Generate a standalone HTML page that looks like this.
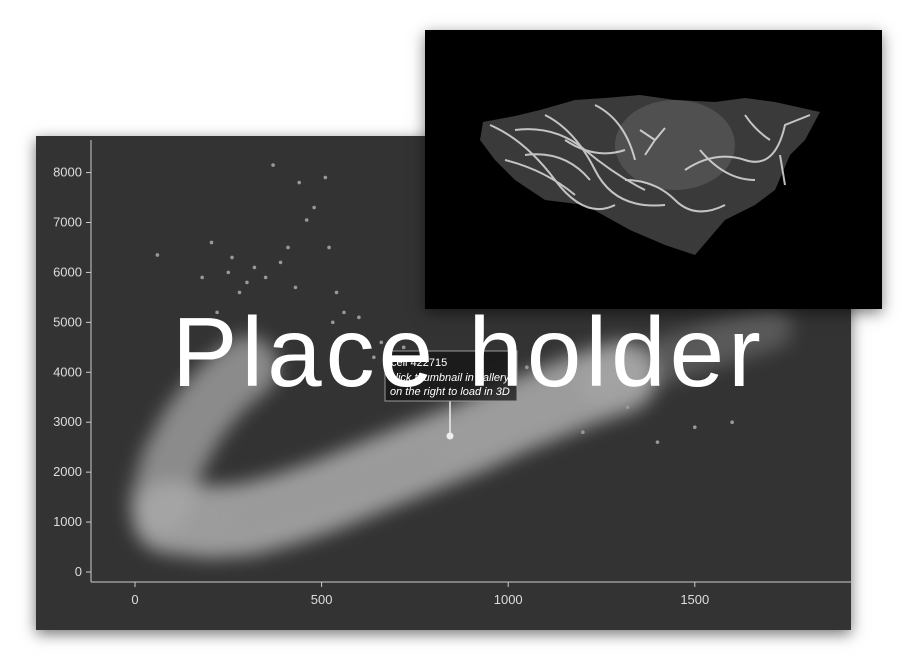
<!DOCTYPE html>
<html><head><meta charset="utf-8">
<style>
html,body{margin:0;padding:0;background:#fff;width:924px;height:671px;overflow:hidden;font-family:"Liberation Sans",sans-serif}
#panel{position:absolute;left:36px;top:136px;width:815px;height:494px;background:#333;box-shadow:0 4px 14px rgba(0,0,0,0.55)}
#inset{position:absolute;left:425px;top:30px;width:457px;height:279px;background:#000;box-shadow:0 4px 14px rgba(0,0,0,0.5)}
#ph{position:absolute;left:172px;top:296px;font-size:98px;color:#fff;white-space:nowrap;letter-spacing:4px}
</style></head><body>
<div id="panel"></div>
<svg id="chart" width="924" height="671" style="position:absolute;left:0;top:0">
  <defs><filter id="bl" x="-50%" y="-50%" width="200%" height="200%"><feGaussianBlur stdDeviation="9"/></filter></defs>
  <g id="bands" filter="url(#bl)"></g>
  <g id="pts"></g>
  <g id="axes" font-size="13" fill="#ddd"></g>
  <g>
    <line x1="450" y1="401" x2="450" y2="436" stroke="#eee" stroke-width="1.5"/>
    <circle cx="450" cy="436" r="3.5" fill="#eee"/>
    <rect x="385" y="351" width="132" height="50" fill="rgba(20,20,20,0.75)" stroke="#999"/>
    <text x="391" y="366" font-size="11" fill="#fff">cell 422715</text>
    <text x="390" y="381" font-size="11" fill="#fff" font-style="italic">click thumbnail in gallery</text>
    <text x="390" y="395" font-size="11" fill="#fff" font-style="italic">on the right to load in 3D</text>
  </g>
</svg>
<div id="inset">
<svg width="457" height="279">
  <polygon points="58,92 90,86 115,80 150,70 180,68 215,65 250,70 290,72 320,68 350,72 395,82 380,110 365,125 350,160 330,175 300,190 270,225 240,215 205,200 160,175 120,170 90,150 70,130 55,110" fill="#3a3a3a"/>
  <ellipse cx="250" cy="115" rx="60" ry="45" fill="#505050"/>
  <g stroke="#ddd" stroke-width="2" fill="none" opacity="0.85">
    <path d="M65,95 Q100,110 130,150 T190,175"/><path d="M90,100 Q130,95 160,120 T220,160"/>
    <path d="M120,85 Q150,100 170,140 T240,175"/><path d="M170,75 Q200,90 210,130"/>
    <path d="M215,100 l15,10 l10,-12 M230,110 l-10,15"/><path d="M260,140 Q290,120 320,130 T360,95 L385,85"/>
    <path d="M80,130 Q120,140 150,165"/><path d="M200,150 Q230,150 250,170 T300,175"/>
    <path d="M320,85 Q330,100 345,110"/><path d="M355,125 L360,155"/><path d="M140,110 Q170,130 200,120"/>
    <path d="M100,125 Q140,120 165,150"/><path d="M275,120 Q300,150 330,150"/>
  </g>
</svg></div>
<div id="ph">Place holder</div>
<script>
const xTicks=[0,500,1000,1500];
const yTicks=[0,1000,2000,3000,4000,5000,6000,7000,8000];
const lowerBandX=[90,200,300,400,500,600,700,800,900,1000,1100,1200,1300];
const lowerBandY=[1100,1000,1050,1250,1500,1800,2100,2400,2700,3050,3350,3650,3900];
const tailBandX=[1250,1400,1550,1700];
const tailBandY=[3800,4200,4550,4900];
const upperArmX=[70,100,150,200,250,300];
const upperArmY=[1400,2200,2900,3400,3800,4100];
const coreX=[300,400,500,600,700,780];
const coreY=[1100,1350,1550,1800,2050,2250];
const outX=[60,205,260,280,300,350,370,390,410,430,440,460,480,510,520,530,540,560,180,220,320,250,600,660,720,980,1100,1200,1320,1400,1500,1600,640,700,1050];
const outY=[6350,6600,6300,5600,5800,5900,8150,6200,6500,5700,7800,7050,7300,7900,6500,5000,5600,5200,5900,5200,6100,6000,5100,4600,4500,3900,2900,2800,3300,2600,2900,3000,4300,4700,4100];
const X=v=>135+v*0.3732, Y=v=>572-v*0.04993;
const NS='http://www.w3.org/2000/svg';
function mk(t,p,a){const e=document.createElementNS(NS,t);for(const k in a)e.setAttribute(k,a[k]);p.appendChild(e);return e;}
const bands=document.getElementById('bands');
function band(xs,ys,w,c,o,name){
  const d=xs.map((x,i)=>(i?'L':'M')+X(x)+','+Y(ys[i])).join(' ');
  const p=mk('path',bands,{d:d,stroke:c,'stroke-width':w,fill:'none','stroke-linecap':'round','stroke-linejoin':'round',opacity:o});
  
  
}
band(tailBandX,tailBandY,45,'#888',0.45,'cloud-tail');
band(lowerBandX,lowerBandY,72,'#b5b5b5',0.8,'lower-cloud-band');
band(upperArmX,upperArmY,62,'#a8a8a8',0.75,'upper-cloud-arm');
band(coreX,coreY,30,'#9a9a9a',0.9,'cloud-core');
const pts=document.getElementById('pts');
outX.forEach((x,i)=>{
  const c=mk('circle',pts,{cx:X(x),cy:Y(outY[i]),r:1.8,fill:'#999'});
  
  
});
const ax=document.getElementById('axes');
const ya=mk('line',ax,{x1:91,y1:140,x2:91,y2:582,stroke:'#ccc'});


const xa=mk('line',ax,{x1:91,y1:582,x2:851,y2:582,stroke:'#ccc'});


yTicks.forEach(v=>{
  mk('line',ax,{x1:86,x2:91,y1:Y(v),y2:Y(v),stroke:'#ccc'});
  const t=mk('text',ax,{x:82,y:Y(v)+4,'text-anchor':'end'});t.textContent=v;
  
  
});
xTicks.forEach(v=>{
  mk('line',ax,{x1:X(v),x2:X(v),y1:582,y2:587,stroke:'#ccc'});
  const t=mk('text',ax,{x:X(v),y:604,'text-anchor':'middle'});t.textContent=v;
  
  
});
</script>
</body></html>
